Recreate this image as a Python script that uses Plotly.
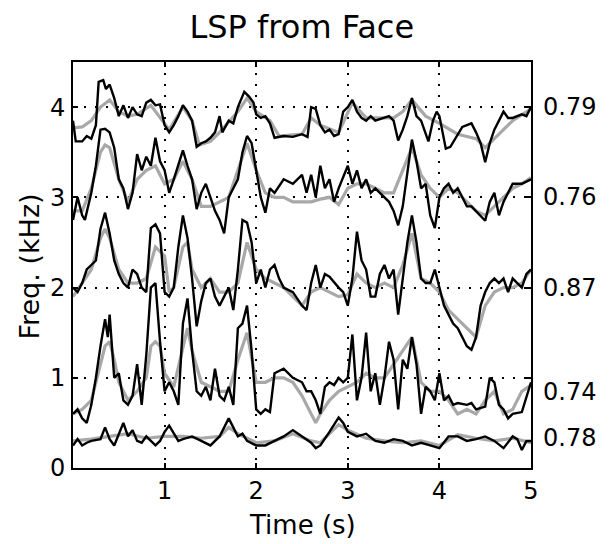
import plotly.graph_objects as go

# ---- data ----
t5_meas = [0.0,0.03,0.1,0.15,0.2,0.25,0.28,0.33,0.36,0.4,0.45,0.5,0.55,0.6,0.65,0.7,0.75,0.8,0.85,0.9,0.95,1.0,1.05,1.1,1.15,1.2,1.25,1.3,1.35,1.4,1.45,1.5,1.55,1.6,1.63,1.7,1.75,1.8,1.87,1.92,1.97,2.0,2.05,2.1,2.15,2.2,2.3,2.4,2.5,2.56,2.6,2.65,2.7,2.75,2.8,2.85,2.9,2.95,3.0,3.05,3.1,3.15,3.2,3.25,3.3,3.4,3.45,3.5,3.55,3.6,3.65,3.7,3.75,3.8,3.88,3.93,3.97,4.0,4.07,4.12,4.2,4.25,4.3,4.35,4.4,4.45,4.5,4.55,4.6,4.65,4.7,4.75,4.8,4.85,4.9,4.95,5.0]
f5_meas = [3.85,3.62,3.62,3.68,3.65,3.8,4.28,4.3,4.2,4.25,4.1,3.9,4.02,3.88,4.0,3.92,3.9,4.05,4.08,4.02,4.03,3.8,3.72,3.8,3.9,4.02,3.95,3.85,3.56,3.6,3.62,3.66,3.72,3.9,3.72,3.85,3.82,4.0,4.17,4.12,4.05,3.92,3.88,3.9,3.82,3.66,3.68,3.67,3.7,3.67,4.0,3.98,3.8,3.72,3.75,3.68,3.7,3.95,4.0,4.08,3.95,3.88,3.85,3.9,3.85,3.88,3.9,3.85,3.63,3.75,3.9,4.1,3.9,3.85,3.62,3.85,3.95,3.9,3.54,3.56,3.7,3.78,3.8,3.82,3.72,3.6,3.39,3.6,3.75,3.85,3.95,3.88,3.88,3.9,3.92,3.9,4.0]
t5_est = [0.0,0.1,0.2,0.3,0.4,0.5,0.6,0.7,0.85,1.0,1.05,1.2,1.3,1.38,1.5,1.6,1.8,1.9,2.0,2.15,2.25,2.5,2.6,2.7,2.9,3.05,3.2,3.5,3.6,3.7,3.85,4.0,4.2,4.4,4.5,4.6,4.8,5.0]
f5_est = [3.77,3.78,3.85,4.0,4.08,3.95,3.9,3.92,4.02,3.82,3.75,4.0,3.85,3.58,3.62,3.72,3.95,4.1,3.95,3.85,3.68,3.7,3.88,3.8,3.72,4.05,3.88,3.88,3.95,4.08,3.9,3.82,3.7,3.65,3.55,3.65,3.85,3.98]

t4_meas = [0.0,0.05,0.1,0.13,0.2,0.25,0.3,0.35,0.4,0.45,0.5,0.55,0.6,0.65,0.7,0.75,0.8,0.85,0.9,0.95,1.0,1.05,1.1,1.15,1.2,1.25,1.3,1.35,1.4,1.45,1.5,1.55,1.6,1.65,1.7,1.75,1.8,1.85,1.9,1.95,2.0,2.05,2.1,2.15,2.2,2.3,2.4,2.5,2.55,2.6,2.65,2.7,2.75,2.8,2.85,2.9,3.0,3.05,3.1,3.15,3.2,3.25,3.3,3.35,3.4,3.45,3.5,3.55,3.6,3.65,3.7,3.75,3.8,3.85,3.9,3.95,4.0,4.05,4.1,4.15,4.2,4.25,4.3,4.35,4.4,4.45,4.5,4.55,4.6,4.65,4.7,4.75,4.8,4.9,5.0]
f4_meas = [2.75,3.0,2.8,2.75,3.05,3.35,3.75,3.76,3.72,3.55,3.2,3.1,2.87,3.05,3.48,3.3,3.45,3.35,3.66,3.4,3.3,3.05,3.2,3.35,3.52,3.35,3.2,2.87,3.05,3.15,3.0,2.85,2.75,2.6,3.0,3.1,3.2,3.5,3.68,3.6,3.3,3.0,2.83,3.1,3.05,3.2,3.15,3.25,3.05,3.25,3.0,3.35,3.1,3.2,2.95,3.1,3.35,3.15,3.3,3.1,3.2,3.05,3.1,3.05,3.0,2.95,2.85,2.69,2.9,3.3,3.64,3.4,3.1,3.15,2.8,2.66,3.0,3.1,3.15,3.05,3.1,3.0,2.9,2.9,2.85,2.8,2.74,2.95,3.05,2.8,2.95,3.05,3.15,3.15,3.2]
t4_est = [0.0,0.1,0.2,0.3,0.35,0.4,0.5,0.6,0.7,0.8,0.9,1.0,1.1,1.2,1.3,1.4,1.5,1.6,1.7,1.8,1.9,2.0,2.1,2.2,2.3,2.4,2.5,2.6,2.7,2.8,2.9,3.0,3.1,3.2,3.3,3.4,3.5,3.6,3.7,3.8,3.9,4.0,4.1,4.2,4.3,4.4,4.5,4.6,4.7,4.8,4.9,5.0]
f4_est = [2.85,2.85,3.1,3.5,3.58,3.55,3.2,2.95,3.2,3.3,3.35,3.15,3.2,3.4,3.2,2.9,2.9,2.95,3.0,3.3,3.6,3.3,3.05,3.0,3.0,2.95,2.95,2.95,2.98,3.0,2.92,3.1,3.15,3.15,3.1,3.05,3.05,3.3,3.55,3.25,3.1,3.0,3.1,3.05,2.95,2.85,2.8,2.9,3.0,3.1,3.15,3.22]

t3_meas = [0.0,0.05,0.1,0.15,0.2,0.25,0.3,0.35,0.4,0.45,0.5,0.55,0.6,0.65,0.7,0.75,0.8,0.85,0.9,0.95,1.0,1.05,1.1,1.15,1.2,1.25,1.3,1.35,1.4,1.45,1.5,1.55,1.6,1.65,1.7,1.75,1.8,1.85,1.9,1.95,2.0,2.05,2.1,2.15,2.2,2.25,2.3,2.4,2.5,2.55,2.6,2.65,2.7,2.75,2.8,2.9,2.95,3.0,3.05,3.1,3.15,3.2,3.25,3.3,3.35,3.4,3.45,3.5,3.55,3.6,3.65,3.7,3.75,3.8,3.85,3.9,3.95,4.0,4.05,4.1,4.15,4.2,4.3,4.35,4.4,4.45,4.5,4.55,4.6,4.65,4.7,4.75,4.8,4.9,4.95,5.0]
f3_meas = [2.0,1.95,2.05,2.2,2.25,2.3,2.65,2.83,2.6,2.3,2.15,2.05,2.0,2.2,2.15,2.0,1.95,2.66,2.7,2.6,1.95,1.9,2.0,2.45,2.8,2.55,2.1,1.57,1.85,2.05,2.1,1.9,1.8,1.9,2.0,1.75,2.2,2.75,2.72,2.5,2.05,2.2,2.0,2.2,2.25,2.1,2.0,1.95,1.8,1.75,2.05,2.25,2.0,2.15,2.12,2.0,1.95,1.8,2.1,2.62,2.3,2.2,1.9,1.9,2.15,2.25,2.1,2.2,1.7,2.1,2.5,2.8,2.5,2.1,2.05,2.05,2.2,2.0,1.8,1.7,1.6,1.55,1.35,1.31,1.45,1.8,1.95,2.05,2.1,2.05,2.1,1.95,2.1,2.0,2.15,2.2]
t3_est = [0.0,0.1,0.2,0.3,0.35,0.4,0.5,0.6,0.7,0.8,0.9,1.0,1.05,1.1,1.2,1.25,1.3,1.4,1.5,1.6,1.7,1.8,1.9,2.0,2.1,2.2,2.3,2.4,2.5,2.6,2.7,2.8,2.9,3.0,3.1,3.2,3.3,3.4,3.5,3.6,3.7,3.8,3.9,4.0,4.1,4.2,4.3,4.4,4.5,4.6,4.7,4.8,4.9,5.0]
f3_est = [1.9,2.05,2.2,2.55,2.65,2.55,2.2,2.05,2.05,2.1,2.45,2.35,1.95,2.0,2.45,2.5,2.2,2.0,2.1,1.95,1.95,2.05,2.5,2.2,2.1,2.05,2.0,1.9,1.8,1.95,2.0,1.95,1.9,1.92,2.15,2.05,2.0,2.05,2.0,2.25,2.6,2.1,2.05,1.95,1.75,1.65,1.55,1.45,1.8,1.95,2.0,2.0,2.05,2.2]

t2_meas = [0.0,0.05,0.1,0.15,0.2,0.25,0.3,0.35,0.38,0.4,0.45,0.5,0.55,0.6,0.65,0.7,0.75,0.8,0.85,0.9,0.95,1.0,1.05,1.1,1.15,1.2,1.25,1.3,1.35,1.4,1.45,1.5,1.55,1.6,1.65,1.7,1.75,1.8,1.85,1.9,1.95,2.0,2.05,2.1,2.15,2.2,2.3,2.4,2.5,2.55,2.6,2.65,2.7,2.75,2.8,2.85,2.9,2.95,3.0,3.05,3.1,3.15,3.2,3.25,3.3,3.35,3.4,3.45,3.5,3.55,3.6,3.65,3.7,3.75,3.8,3.85,3.9,3.95,4.0,4.05,4.1,4.15,4.2,4.3,4.35,4.4,4.5,4.55,4.6,4.65,4.7,4.75,4.8,4.9,5.0]
f2_meas = [0.6,0.65,0.55,0.5,0.7,1.0,1.35,1.65,1.45,1.7,1.0,1.05,0.75,0.7,0.8,1.15,0.7,1.25,2.0,2.05,1.4,0.85,0.95,0.85,0.7,1.6,1.88,1.3,0.85,0.8,0.9,0.75,1.1,0.8,0.75,0.9,0.7,1.55,1.6,1.8,1.3,0.65,0.6,0.65,0.62,1.05,1.1,1.0,0.95,0.85,0.85,0.75,0.6,0.9,0.95,0.92,1.0,0.95,1.0,1.48,0.75,1.0,1.5,0.85,1.05,0.7,1.0,1.4,1.2,0.65,1.2,1.1,1.45,1.15,0.6,0.9,0.85,0.75,1.05,0.75,0.8,0.7,0.72,0.7,0.72,0.65,0.68,1.0,0.95,0.7,0.65,0.55,0.6,0.62,0.95]
t2_est = [0.0,0.1,0.2,0.3,0.35,0.4,0.45,0.5,0.6,0.7,0.8,0.85,0.9,0.95,1.0,1.1,1.2,1.25,1.3,1.4,1.5,1.6,1.7,1.8,1.9,2.0,2.1,2.2,2.3,2.4,2.5,2.6,2.65,2.7,2.8,2.9,3.0,3.1,3.2,3.3,3.4,3.5,3.6,3.7,3.8,3.9,4.0,4.1,4.2,4.3,4.4,4.5,4.6,4.7,4.8,4.9,5.0]
f2_est = [0.6,0.65,0.75,1.15,1.35,1.4,1.2,0.95,0.75,0.85,1.0,1.35,1.4,1.35,1.05,0.9,1.35,1.55,1.3,0.95,0.9,0.85,0.85,1.2,1.5,0.95,0.95,1.0,1.0,0.95,0.8,0.6,0.5,0.6,0.75,0.85,0.9,0.95,1.05,1.0,1.0,1.15,1.3,1.45,0.95,0.85,0.85,0.75,0.6,0.65,0.6,0.75,0.85,0.6,0.65,0.85,0.92]

t1_meas = [0.0,0.05,0.1,0.15,0.2,0.3,0.35,0.4,0.45,0.5,0.55,0.6,0.65,0.7,0.75,0.8,0.85,0.9,0.95,1.0,1.05,1.1,1.15,1.2,1.3,1.4,1.5,1.6,1.7,1.75,1.8,1.85,1.9,2.0,2.1,2.2,2.3,2.4,2.5,2.6,2.65,2.7,2.8,2.9,2.95,3.0,3.1,3.2,3.3,3.4,3.5,3.6,3.7,3.8,3.9,4.0,4.1,4.2,4.3,4.4,4.5,4.6,4.7,4.8,4.85,4.9,4.95,5.0]
f1_meas = [0.25,0.32,0.25,0.28,0.3,0.32,0.45,0.32,0.25,0.38,0.5,0.35,0.42,0.3,0.28,0.35,0.3,0.25,0.3,0.4,0.47,0.38,0.3,0.32,0.35,0.3,0.25,0.35,0.55,0.45,0.35,0.38,0.3,0.25,0.25,0.3,0.35,0.42,0.35,0.28,0.22,0.25,0.4,0.56,0.5,0.4,0.35,0.38,0.3,0.28,0.32,0.3,0.25,0.28,0.25,0.22,0.35,0.35,0.3,0.32,0.35,0.3,0.22,0.35,0.32,0.2,0.3,0.3]
t1_est = [0.0,0.2,0.4,0.6,0.8,1.0,1.2,1.4,1.6,1.7,1.8,2.0,2.2,2.4,2.6,2.7,2.9,3.0,3.2,3.4,3.6,3.8,4.0,4.2,4.4,4.6,4.8,5.0]
f1_est = [0.3,0.32,0.35,0.38,0.33,0.35,0.35,0.33,0.35,0.45,0.38,0.28,0.3,0.38,0.3,0.28,0.48,0.42,0.33,0.3,0.28,0.3,0.25,0.37,0.33,0.3,0.33,0.28]

corr_labels = ["0.79", "0.76", "0.87", "0.74", "0.78"]
corr_pos = [4.0, 3.0, 2.0, 0.84, 0.33]

x_ticks = [1, 2, 3, 4, 5]
y_ticks = [0, 1, 2, 3, 4]

est_series = [(t5_est, f5_est), (t4_est, f4_est), (t3_est, f3_est), (t2_est, f2_est), (t1_est, f1_est)]
meas_series = [(t5_meas, f5_meas), (t4_meas, f4_meas), (t3_meas, f3_meas), (t2_meas, f2_meas), (t1_meas, f1_meas)]

fig = go.Figure()
for t, f in est_series:
    fig.add_trace(go.Scatter(x=t, y=f, mode="lines", line=dict(color="#a8a8a8", width=3.2), showlegend=False))
for t, f in meas_series:
    fig.add_trace(go.Scatter(x=t, y=f, mode="lines", line=dict(color="black", width=2.4), showlegend=False))

FONT = "DejaVu Sans, sans-serif"
for lab, yv in zip(corr_labels, corr_pos):
    fig.add_annotation(x=1, xref="paper", y=yv, yref="y", text=lab, showarrow=False,
                       xanchor="left", yanchor="middle", xshift=10,
                       font=dict(family=FONT, size=24, color="black"))

# axis titles placed as annotations for exact positioning
fig.add_annotation(x=0.5, xref="paper", y=-0.14, yref="paper", text="Time (s)", showarrow=False,
                   xanchor="center", yanchor="middle", font=dict(family=FONT, size=26, color="black"))
fig.add_annotation(x=-0.094, xref="paper", y=0.496, yref="paper", text="Freq. (kHz)", showarrow=False,
                   textangle=-90, xanchor="center", yanchor="middle",
                   font=dict(family=FONT, size=27, color="black"))

axis_common = dict(showline=True, linecolor="black", linewidth=2, mirror="ticks",
                   ticks="inside", ticklen=5, tickwidth=2, tickcolor="black",
                   showgrid=True, gridcolor="black", gridwidth=1.5, griddash="2px,9px",
                   zeroline=False, tickfont=dict(family=FONT, size=24, color="black"))

fig.update_layout(
    width=602, height=536,
    margin=dict(l=65, r=79, t=54, b=76),
    paper_bgcolor="white", plot_bgcolor="white",
    title=dict(text="LSP from Face", x=0.488, xanchor="center", y=0.965, yanchor="middle",
               font=dict(family=FONT, size=32, color="black")),
    xaxis=dict(range=[0, 5], tickvals=x_ticks, ticktext=[str(v) for v in x_ticks],
               ticklabelstandoff=0, **axis_common),
    yaxis=dict(range=[0, 4.5], tickvals=y_ticks, ticktext=[str(v) for v in y_ticks],
               ticklabelstandoff=1, **axis_common),
)
fig.write_html("out.html")
